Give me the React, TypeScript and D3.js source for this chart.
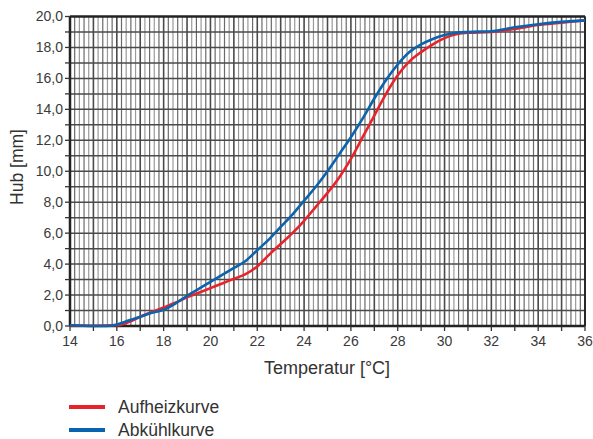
import React, { useEffect, useRef } from 'react';
import * as d3 from 'd3';

// Temperatur [°C] / Hub [mm]
const heatTemps = [14, 15, 16, 16.5, 17, 17.5, 18, 18.5, 19, 19.5, 20, 20.5, 21, 21.5, 22, 22.5, 23, 23.5, 24, 24.5, 25, 25.5, 26, 26.5, 27, 27.5, 28, 28.5, 29, 29.5, 30, 30.5, 31, 32, 33, 34, 35, 36];
const heatHub = [0.05, 0.02, 0.05, 0.25, 0.6, 0.9, 1.2, 1.5, 1.85, 2.15, 2.45, 2.75, 3.05, 3.35, 3.85, 4.6, 5.3, 6.0, 6.8, 7.7, 8.6, 9.6, 10.8, 12.2, 13.6, 15.0, 16.2, 17.1, 17.7, 18.2, 18.6, 18.85, 18.95, 19.0, 19.2, 19.45, 19.6, 19.75];

const coolTemps = [14, 15, 15.5, 16, 16.5, 17, 17.5, 18, 18.5, 19, 19.5, 20, 20.5, 21, 21.5, 22, 22.5, 23, 23.5, 24, 24.5, 25, 25.5, 26, 26.5, 27, 27.5, 28, 28.5, 29, 29.5, 30, 30.5, 31, 32, 33, 34, 35, 36];
const coolHub = [0.05, 0.0, 0.0, 0.1, 0.35, 0.6, 0.85, 1.05, 1.45, 1.95, 2.4, 2.85, 3.3, 3.75, 4.2, 4.9, 5.6, 6.4, 7.2, 8.1, 9.0, 10.0, 11.1, 12.2, 13.4, 14.7, 15.9, 16.9, 17.7, 18.2, 18.55, 18.8, 18.95, 19.0, 19.05, 19.3, 19.5, 19.65, 19.75];

const xTickLabels = [14, 16, 18, 20, 22, 24, 26, 28, 30, 32, 34, 36];
const yTickLabels = [0, 2, 4, 6, 8, 10, 12, 14, 16, 18, 20];
const seriesNames = ['Aufheizkurve', 'Abkühlkurve'];
const seriesColors = ['#e8232b', '#0a63ae'];

const W = 593, H = 439;
const margin = { top: 16.5, right: 8, bottom: 113, left: 70 };
const font = '"Liberation Sans", Arial, sans-serif';

export default function App() {
  const ref = useRef<SVGSVGElement>(null);

  useEffect(() => {
    const svg = d3.select(ref.current);
    svg.selectAll('*').remove();

    const x = d3.scaleLinear().domain([14, 36]).range([margin.left, W - margin.right]);
    const y = d3.scaleLinear().domain([0, 20]).range([H - margin.bottom, margin.top]);

    const g = svg.append('g');

    // vertical grid, every 0.2 °C
    const vLines = d3.range(70, 181).map(i => i / 5);
    g.selectAll('line.v').data(vLines).join('line')
      .attr('x1', d => x(d)).attr('x2', d => x(d))
      .attr('y1', y(0)).attr('y2', y(20))
      .attr('stroke', (d, i) => (i % 5 === 0 ? '#4a4a4a' : i % 2 === 0 ? '#9a9a9a' : '#6a6a6a'))
      .attr('stroke-width', (d, i) => (i % 5 === 0 ? 1.6 : 1.2));

    // horizontal grid, every 1 mm
    g.selectAll('line.h').data(d3.range(1, 20)).join('line')
      .attr('x1', x(14)).attr('x2', x(36))
      .attr('y1', d => y(d)).attr('y2', d => y(d))
      .attr('stroke', '#4a4a4a').attr('stroke-width', 1.5);

    // frame
    const frame = g.append('g').attr('stroke', '#222').attr('fill', 'none');
    frame.append('line').attr('x1', x(14)).attr('x2', x(36)).attr('y1', y(20)).attr('y2', y(20)).attr('stroke-width', 2.5);
    frame.append('line').attr('x1', x(14)).attr('x2', x(36)).attr('y1', y(0)).attr('y2', y(0)).attr('stroke-width', 2.5);
    frame.append('line').attr('x1', x(14)).attr('x2', x(14)).attr('y1', y(0)).attr('y2', y(20)).attr('stroke-width', 2.5);
    frame.append('line').attr('x1', x(36)).attr('x2', x(36)).attr('y1', y(0)).attr('y2', y(20)).attr('stroke-width', 1.8);

    // ticks
    g.selectAll('line.xt').data(d3.range(14, 37)).join('line')
      .attr('x1', d => x(d)).attr('x2', d => x(d))
      .attr('y1', y(0)).attr('y2', y(0) + 5)
      .attr('stroke', '#333').attr('stroke-width', 1.3);
    g.selectAll('line.yt').data(d3.range(0, 21)).join('line')
      .attr('x1', x(14) - 5).attr('x2', x(14))
      .attr('y1', d => y(d)).attr('y2', d => y(d))
      .attr('stroke', '#333').attr('stroke-width', 1.3);

    const fmt = (v: number) => v.toFixed(1).replace('.', ',');
    g.selectAll('text.yl').data(yTickLabels).join('text')
      .attr('x', x(14) - 7).attr('y', d => y(d)).attr('dy', '0.35em')
      .attr('text-anchor', 'end').attr('font-size', 14).attr('font-family', font).attr('fill', '#3a3a3a')
      .text(d => fmt(d));
    g.selectAll('text.xl').data(xTickLabels).join('text')
      .attr('x', d => x(d)).attr('y', y(0) + 20)
      .attr('text-anchor', 'middle').attr('font-size', 14).attr('font-family', font).attr('fill', '#3a3a3a')
      .text(d => d);

    g.append('text').attr('x', 327).attr('y', 374).attr('text-anchor', 'middle')
      .attr('font-size', 18).attr('font-family', font).attr('fill', '#333').text('Temperatur [°C]');
    g.append('text').attr('transform', `translate(23, 167) rotate(-90)`).attr('text-anchor', 'middle')
      .attr('font-size', 17.5).attr('font-family', font).attr('fill', '#333').text('Hub [mm]');

    // curves
    const line = d3.line<[number, number]>().x(d => x(d[0])).y(d => y(d[1])).curve(d3.curveMonotoneX);
    const heat = heatTemps.map((t, i) => [t, heatHub[i]] as [number, number]);
    const cool = coolTemps.map((t, i) => [t, coolHub[i]] as [number, number]);
    [heat, cool].forEach((pts, i) => {
      g.append('path').attr('d', line(pts)).attr('fill', 'none')
        .attr('stroke', seriesColors[i]).attr('stroke-width', 2.6).attr('stroke-linejoin', 'round');
    });

    // legend
    const leg = g.selectAll('g.leg').data(seriesNames).join('g')
      .attr('transform', (d, i) => `translate(69, ${407 + i * 23})`);
    leg.append('line').attr('x1', 0).attr('x2', 36).attr('stroke', (d, i) => seriesColors[i]).attr('stroke-width', 4);
    leg.append('text').attr('x', 49).attr('dy', '0.35em').attr('font-size', 17.5).attr('font-family', font)
      .attr('fill', '#333').text(d => d);
  }, []);

  return (
    <svg ref={ref} width={W} height={H} viewBox={`0 0 ${W} ${H}`}
      style={{ position: 'absolute', left: 0, top: 0, background: '#fff' }} />
  );
}
